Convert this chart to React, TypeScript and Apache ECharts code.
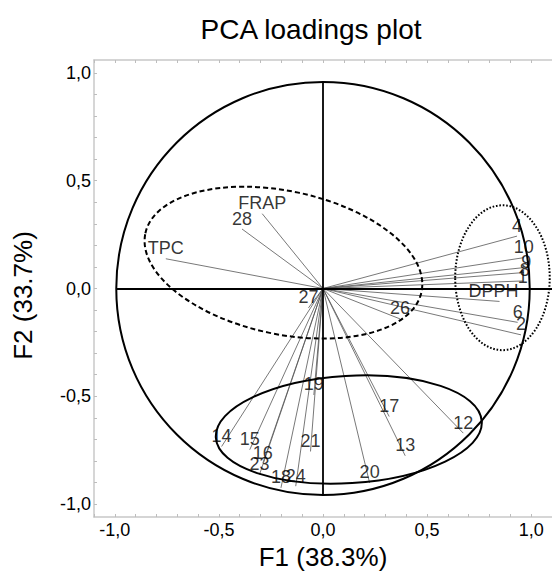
import React, { useEffect, useRef } from "react";
import * as echarts from "echarts";

// ---- Data ----
const variableNames = ["TPC", "FRAP", "28", "27", "DPPH", "4", "10", "9", "8", "1", "6", "2", "26", "19", "17", "12", "14", "15", "21", "13", "16", "23", "18", "24", "20"];
const f1Loadings = [-0.755, -0.292, -0.389, -0.07, 0.848, 0.932, 0.964, 0.967, 0.964, 0.959, 0.935, 0.951, 0.37, -0.044, 0.318, 0.674, -0.487, -0.352, -0.06, 0.395, -0.289, -0.305, -0.202, -0.131, 0.224];
const f2Loadings = [0.138, 0.347, 0.276, -0.09, -0.06, 0.243, 0.143, 0.097, 0.074, 0.035, -0.157, -0.215, -0.141, -0.494, -0.594, -0.671, -0.733, -0.748, -0.756, -0.776, -0.81, -0.863, -0.925, -0.917, -0.902];

// label nudges (px) for the crowded right-hand cluster
const labelNudge: Record<string, [number, number]> = {
  DPPH: [-6, 0],
  "9": [2, 5],
  "8": [1, 8],
  "1": [0, 7],
};

// group ellipses (centre in F1/F2 units, semi-axes a along F1 units, b along F2 units, angle deg)
const groupCenterX = [-0.19, 0.862, 0.124];
const groupCenterY = [0.12, 0.05, -0.654];
const groupSemiA = [0.678, 0.227, 0.64];
const groupSemiB = [0.332, 0.336, 0.249];
const groupAngle = [-12, 0, 3.5];
const groupLine = ["dashed", "dotted", "solid"];

// correlation circle (as drawn) and cross lines
const circleRadiusF1 = [0.993];
const circleRadiusF2 = [0.958];
const crossH = [[-0.993, 0], [1.1, 0]];
const crossV = [[0, 0.958], [0, -0.958]];

// ticks
const xLabelValues = [-1, -0.5, 0, 0.5, 1];
const yLabelValues = [-1, -0.5, 0, 0.5, 1];
const xTickValues = [-1.1, -1.0, -0.9, -0.8, -0.7, -0.6, -0.5, -0.4, -0.3, -0.2, -0.1, 0, 0.1, 0.2, 0.3, 0.4, 0.5, 0.6, 0.7, 0.8, 0.9, 1.0, 1.1];
const yTickValues = [-1.0, -0.9, -0.8, -0.7, -0.6, -0.5, -0.4, -0.3, -0.2, -0.1, 0, 0.1, 0.2, 0.3, 0.4, 0.5, 0.6, 0.7, 0.8, 0.9, 1.0];

const FONT = "'Liberation Sans', Arial, sans-serif";
const fmt = (v: number) => v.toFixed(1).replace(".", ",");

export default function App() {
  const ref = useRef<HTMLDivElement>(null);
  useEffect(() => {
    if (!ref.current) return;
    const chart = echarts.init(ref.current, null, { renderer: "svg" });

    const ellipseData = [
      ...circleRadiusF1.map((r, i) => [0, 0, r, circleRadiusF2[i], 0, 0]),
      ...groupCenterX.map((cx, i) => [cx, groupCenterY[i], groupSemiA[i], groupSemiB[i], groupAngle[i], i + 1]),
    ];
    const dashFor = (kind: number) => {
      if (kind === 0) return { lineDash: null as any, lineWidth: 2 };
      const t = groupLine[kind - 1];
      if (t === "dashed") return { lineDash: [5, 3], lineWidth: 2 };
      if (t === "dotted") return { lineDash: [1.6, 1.8], lineWidth: 2 };
      return { lineDash: null as any, lineWidth: 2 };
    };

    const axisCommon = {
      type: "value" as const,
      splitLine: { show: false },
      axisLine: { show: true, onZero: false, lineStyle: { color: "#c8c8c8", width: 1.5 } },
    };

    chart.setOption({
      animation: false,
      backgroundColor: "#ffffff",
      title: {
        text: "PCA loadings plot",
        left: 306,
        top: 10,
        textAlign: "center",
        textStyle: { fontSize: 28, fontWeight: "normal", fontFamily: FONT, color: "#000" },
      },
      grid: { left: 94, top: 60, width: 464, height: 460, containLabel: false },
      xAxis: [
        {
          ...axisCommon,
          position: "bottom",
          min: -1.1,
          max: 1.1,
          name: "F1 (38.3%)",
          nameLocation: "middle",
          nameGap: 27,
          nameTextStyle: { fontSize: 26, fontFamily: FONT, color: "#000" },
          axisTick: { show: true, inside: true, length: 3, customValues: xTickValues, lineStyle: { color: "#bdbdbd" } },
          axisLabel: { customValues: xLabelValues, formatter: fmt, fontSize: 18, fontFamily: FONT, color: "#000", margin: 4 },
        },
        {
          ...axisCommon,
          position: "top",
          min: -1.1,
          max: 1.1,
          axisTick: { show: true, inside: true, length: 3, customValues: xTickValues, lineStyle: { color: "#bdbdbd" } },
          axisLabel: { show: false },
        },
      ],
      yAxis: {
        ...axisCommon,
        position: "left",
        min: -1.06,
        max: 1.06,
        name: "F2 (33.7%)",
        nameLocation: "middle",
        nameGap: 58,
        nameTextStyle: { fontSize: 26, fontFamily: FONT, color: "#000", padding: [0, 0, 0, -14] },
        axisTick: { show: true, inside: true, length: 3, customValues: yTickValues, lineStyle: { color: "#bdbdbd" } },
        axisLabel: { customValues: yLabelValues, formatter: fmt, fontSize: 18, fontFamily: FONT, color: "#000", margin: 3 },
      },
      series: [
        {
          type: "custom",
          coordinateSystem: "cartesian2d",
          silent: true,
          z: 3,
          data: ellipseData,
          renderItem: (params: any, api: any) => {
            const c = api.coord([api.value(0), api.value(1)]);
            const a = api.size([api.value(2), 0])[0];
            const b = api.size([0, api.value(3)])[1];
            const rot = (api.value(4) * Math.PI) / 180;
            const d = dashFor(api.value(5));
            return {
              type: "ellipse",
              x: c[0],
              y: c[1],
              rotation: rot,
              shape: { cx: 0, cy: 0, rx: a, ry: b },
              style: { fill: "none", stroke: "#000", lineWidth: d.lineWidth, lineDash: d.lineDash },
            };
          },
        },
        {
          type: "lines",
          coordinateSystem: "cartesian2d",
          silent: true,
          z: 4,
          data: [{ coords: crossH }, { coords: crossV }],
          lineStyle: { color: "#000", width: 1.8, opacity: 1, curveness: 0 },
        },
        {
          type: "lines",
          coordinateSystem: "cartesian2d",
          silent: true,
          z: 2,
          data: variableNames.map((n, i) => ({ coords: [[0, 0], [f1Loadings[i], f2Loadings[i]]] })),
          lineStyle: { color: "#555", width: 0.8, opacity: 1, curveness: 0 },
        },
        {
          type: "scatter",
          silent: true,
          z: 5,
          symbolSize: 1,
          itemStyle: { color: "rgba(0,0,0,0)" },
          data: variableNames.map((n, i) => ({
            name: n,
            value: [f1Loadings[i], f2Loadings[i]],
            label: labelNudge[n] ? { offset: labelNudge[n] } : undefined,
          })),
          label: {
            show: true,
            position: "top",
            distance: 1,
            formatter: "{b}",
            fontSize: 18,
            fontFamily: FONT,
            color: "#000",
          },
        },
      ],
    });
    return () => chart.dispose();
  }, []);
  return <div ref={ref} style={{ position: "absolute", left: 0, top: 0, width: 552, height: 575 }} />;
}
